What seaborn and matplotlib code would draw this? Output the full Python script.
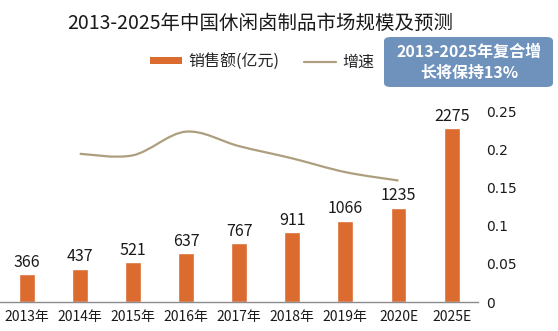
import numpy as np
import pandas as pd
import seaborn as sns
import matplotlib
matplotlib.use("Agg")
import matplotlib.pyplot as plt
from matplotlib.path import Path
from matplotlib.patches import PathPatch, FancyBboxPatch
from matplotlib.lines import Line2D
from matplotlib.patches import Patch

years = ["2013年", "2014年", "2015年", "2016年", "2017年", "2018年", "2019年", "2020E", "2025E"]
sales = [366, 437, 521, 637, 767, 911, 1066, 1235, 2275]
growth_years = ["2014年", "2015年", "2016年", "2017年", "2018年", "2019年", "2020E"]
growth = [0.194, 0.192, 0.223, 0.204, 0.188, 0.170, 0.159]
right_ticks = [0, 0.05, 0.1, 0.15, 0.2, 0.25]
right_ticklabels = ["0", "0.05", "0.1", "0.15", "0.2", "0.25"]

BAR_COLOR = "#dc6b2f"
LINE_COLOR = "#ad9f7e"
BOX_COLOR = "#6f92bd"

sns.set_theme(style="white")
plt.rcParams["font.family"] = ["Noto Sans CJK SC", "DejaVu Sans"]

df = pd.DataFrame({"year": years, "sales": sales})

fig = plt.figure(figsize=(5.58, 3.31), dpi=100)
ax = fig.add_axes([0.0, 0.0876, 0.857, 0.577])

sns.barplot(data=df, x="year", y="sales", color=BAR_COLOR, width=0.3,
            saturation=1, ax=ax)
ax.set_ylim(0, 2500)
ax.set_xlim(-0.5, len(years) - 0.5)
for i, v in enumerate(sales):
    ax.text(i, v + 45, str(v), ha="center", va="bottom", fontsize=11.5,
            color="#1a1a1a")

ax.set_xlabel("")
ax.set_ylabel("")
ax.set_yticks([])
ax.tick_params(axis="x", length=0, labelsize=10, pad=6, colors="#1a1a1a")
for s in ["top", "right", "left"]:
    ax.spines[s].set_visible(False)
ax.spines["bottom"].set_color("#8c8c8c")
ax.spines["bottom"].set_linewidth(1.0)

# growth rate on a secondary axis, drawn as a smooth curve through the points
ax2 = ax.twinx()
ax2.set_ylim(0, 0.25)
xs = np.array([years.index(y) for y in growth_years], dtype=float)
ys = np.array(growth, dtype=float)
verts = [(xs[0], ys[0])]
codes = [Path.MOVETO]
n = len(xs)
for i in range(n - 1):
    p0 = (xs[max(i - 1, 0)], ys[max(i - 1, 0)])
    p1 = (xs[i], ys[i])
    p2 = (xs[i + 1], ys[i + 1])
    p3 = (xs[min(i + 2, n - 1)], ys[min(i + 2, n - 1)])
    c1 = (p1[0] + (p2[0] - p0[0]) / 6, p1[1] + (p2[1] - p0[1]) / 6)
    c2 = (p2[0] - (p3[0] - p1[0]) / 6, p2[1] - (p3[1] - p1[1]) / 6)
    verts += [c1, c2, p2]
    codes += [Path.CURVE4] * 3
ax2.add_patch(PathPatch(Path(verts, codes), facecolor="none",
                        edgecolor=LINE_COLOR, linewidth=1.6))
ax2.set_yticks(right_ticks)
ax2.set_yticklabels(right_ticklabels, fontfamily="DejaVu Sans")
ax2.tick_params(axis="y", length=0, labelsize=10, pad=6, colors="#1a1a1a")
for s in ["top", "right", "left", "bottom"]:
    ax2.spines[s].set_visible(False)
ax2.grid(False)
ax.grid(False)

fig.text(0.466, 0.93, "2013-2025年中国休闲卤制品市场规模及预测", ha="center",
         va="center", fontsize=14, color="#1a1a1a", fontweight="medium")

handles = [Patch(facecolor=BAR_COLOR, edgecolor="none"),
           Line2D([0], [0], color=LINE_COLOR, linewidth=1.6)]
fig.legend(handles, ["销售额(亿元)", "增速"], loc="center",
           bbox_to_anchor=(0.47, 0.813), ncol=2, frameon=False, fontsize=11.5,
           handlelength=2.0, handleheight=0.35, columnspacing=1.5,
           handletextpad=0.4)

box = FancyBboxPatch((384 / 558, 1 - 87 / 331), (553 - 384) / 558, 50 / 331,
                     boxstyle="round,pad=0,rounding_size=0.012",
                     transform=fig.transFigure, facecolor=BOX_COLOR,
                     edgecolor="none")
fig.patches.append(box)
fig.text(469 / 558, 1 - 52 / 331, "2013-2025年复合增", ha="center", va="center",
         fontsize=11.5, color="white", fontweight="bold")
fig.text(469 / 558, 1 - 73 / 331, "长将保持13%", ha="center", va="center",
         fontsize=11.5, color="white", fontweight="bold")

fig.savefig("out.png", dpi=100)
